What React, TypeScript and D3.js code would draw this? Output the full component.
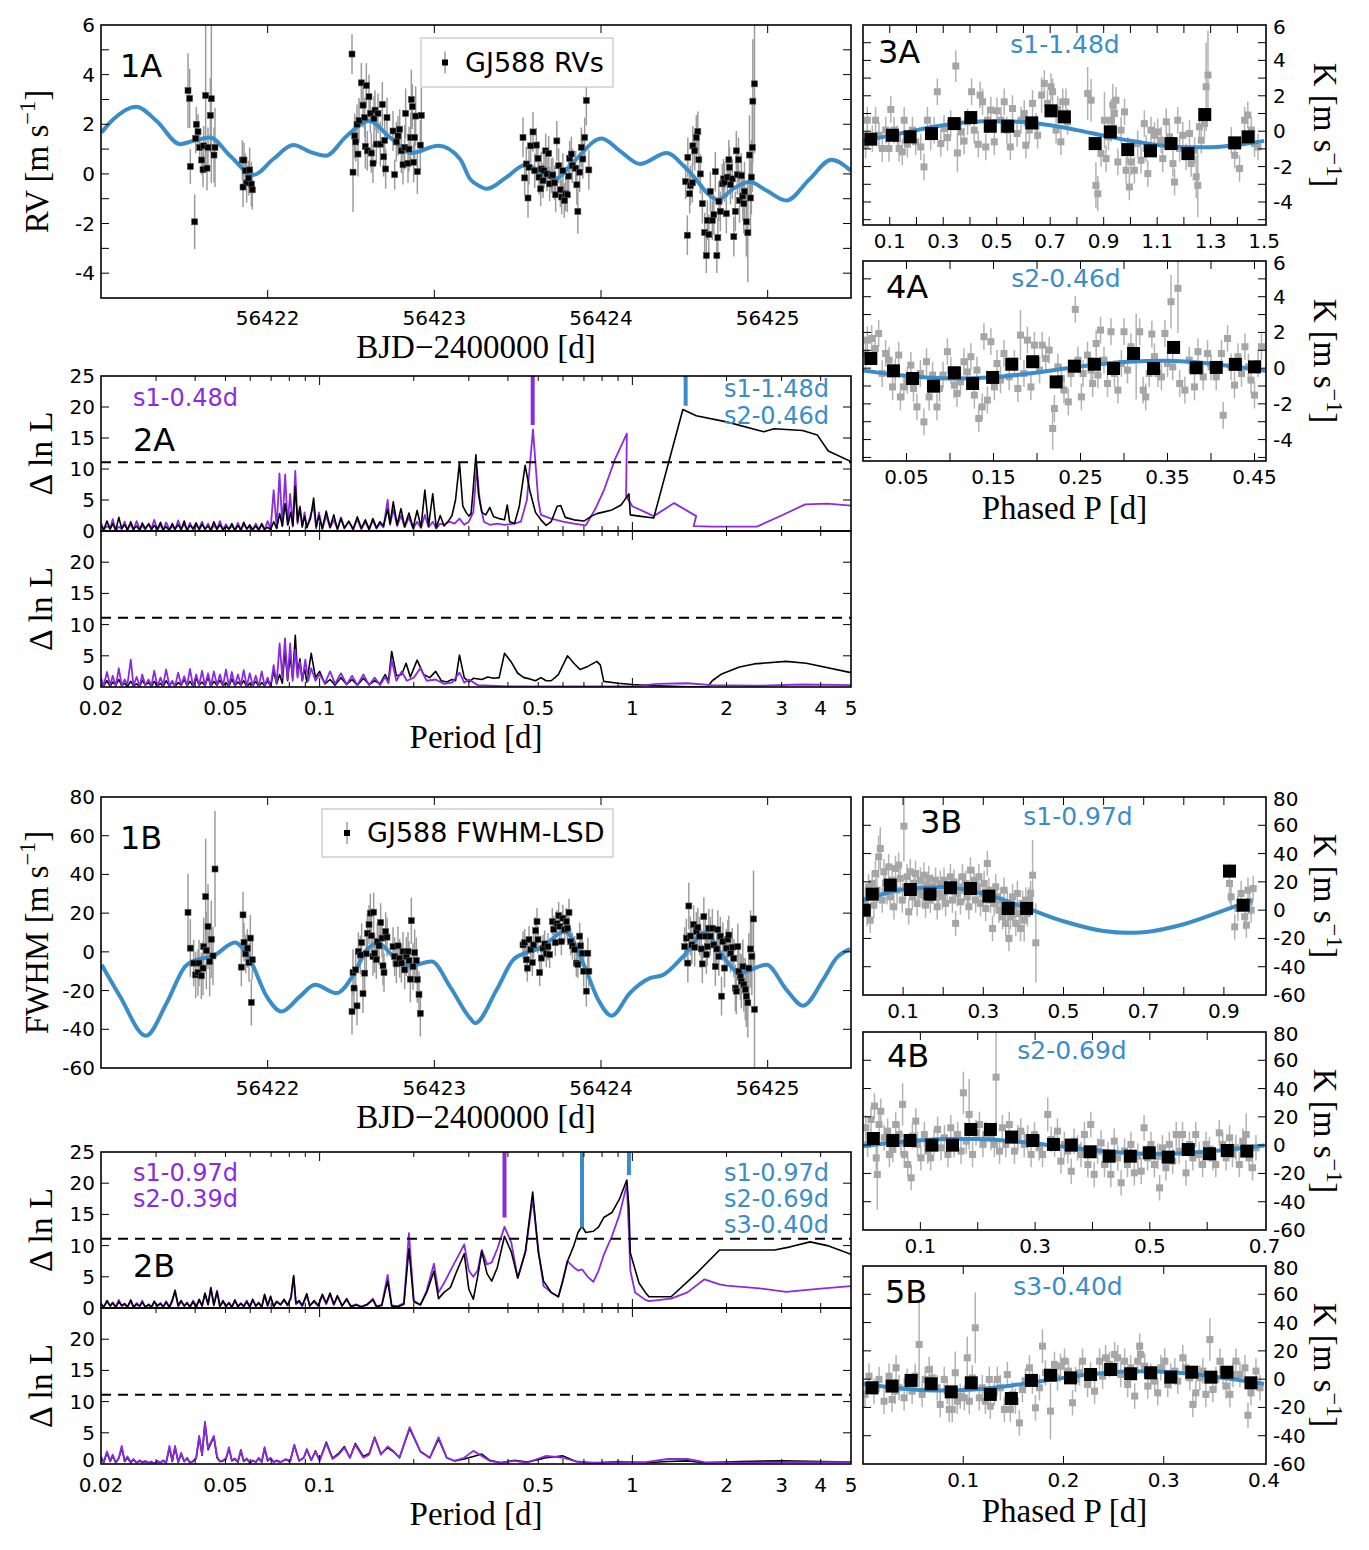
import { useEffect, useRef } from 'react'
import * as d3 from 'd3'

const W = 1369
const H = 1550
const BLUE = '#3a8dc8'
const PURPLE = '#8a2be2'
const SANS = "'DejaVu Sans', Verdana, sans-serif"
const SERIF = "'Liberation Serif', 'Times New Roman', serif"

// ---------------- time series (panels 1A / 1B) ----------------
const BJD_DOMAIN = [56421.0, 56425.5]
const BJD_TICKS = [56422, 56423, 56424, 56425]

// [BJD-2400000, RV m/s, err]
const RV_OBS = [
  [56421.522,3.36,1.5],[56421.532,3.04,1.2],[56421.536,0.30,0.7],[56421.562,-1.93,1.1],[56421.572,2.00,0.7],[56421.582,1.70,0.7],
  [56421.568,1.43,0.6],[56421.592,1.07,0.6],[56421.604,0.56,0.6],[56421.612,0.17,0.7],[56421.616,1.13,0.8],[56421.628,3.16,3.0],
  [56421.636,0.23,0.9],[56421.642,1.07,0.8],[56421.656,2.36,1.5],[56421.662,3.03,3.4],[56421.678,0.76,1.1],[56421.684,1.07,1.6],
  [56421.848,0.56,0.8],[56421.858,0.56,0.7],[56421.866,0.13,0.7],[56421.874,-0.36,0.8],[56421.886,-0.17,0.7],[56421.892,0.16,0.9],
  [56421.902,-0.41,0.9],[56421.908,-0.64,0.8],[56421.852,-0.53,0.8],
  [56422.506,4.83,0.8],[56422.512,0.07,1.6],[56422.522,1.53,0.9],[56422.528,1.29,0.8],[56422.542,0.80,0.9],[56422.536,2.00,0.8],
  [56422.548,2.16,0.9],[56422.562,3.67,0.8],[56422.572,2.77,0.9],[56422.582,2.27,0.8],[56422.586,1.11,0.9],[56422.592,3.56,0.9],
  [56422.598,0.93,0.8],[56422.608,3.11,0.9],[56422.616,2.44,0.8],[56422.622,0.84,0.8],[56422.632,0.43,0.8],[56422.638,2.23,0.9],
  [56422.644,2.57,0.8],[56422.652,1.20,0.8],[56422.662,2.44,0.8],[56422.676,1.20,0.9],[56422.688,2.80,0.9],[56422.696,0.69,0.8],
  [56422.702,1.35,0.8],[56422.708,0.20,0.8],[56422.716,2.27,0.8],[56422.752,1.73,0.8],[56422.762,-0.03,0.6],[56422.772,1.29,0.8],
  [56422.782,1.53,0.8],[56422.792,1.80,0.8],[56422.802,0.93,0.9],[56422.812,0.37,0.8],[56422.822,1.07,0.9],[56422.828,2.44,1.0],
  [56422.842,0.43,0.8],[56422.848,1.00,0.9],[56422.858,1.47,1.0],[56422.862,3.00,1.2],[56422.868,2.71,0.9],[56422.876,0.47,0.8],
  [56422.882,1.47,1.0],[56422.888,2.33,1.2],[56422.898,0.09,0.9],[56422.916,1.16,1.0],[56422.922,2.36,1.1],
  [56423.532,1.47,0.8],[56423.542,-0.16,0.7],[56423.552,0.40,0.7],[56423.562,-0.97,0.8],[56423.568,0.27,0.7],[56423.578,1.13,0.7],
  [56423.592,1.69,0.8],[56423.602,0.13,0.7],[56423.612,1.16,0.7],[56423.622,0.63,0.7],[56423.628,-0.13,0.7],[56423.638,-0.60,0.7],
  [56423.642,0.20,0.7],[56423.652,-0.27,0.7],[56423.658,0.13,0.7],[56423.668,0.93,0.7],[56423.676,0.00,0.7],[56423.686,0.83,0.7],
  [56423.692,-0.40,0.7],[56423.702,-0.07,0.7],[56423.711,-0.04,0.7],[56423.722,-0.36,0.7],[56423.728,-0.84,0.7],[56423.735,1.33,0.8],
  [56423.746,0.33,0.7],[56423.756,-0.64,0.7],[56423.764,-0.93,0.7],[56423.771,0.13,0.7],[56423.780,-1.07,0.7],[56423.788,-0.80,0.7],
  [56423.798,-0.84,0.7],[56423.806,-0.09,0.7],[56423.812,0.63,0.7],[56423.822,0.80,0.7],[56423.828,0.33,0.7],[56423.848,0.23,0.7],
  [56423.855,-0.44,0.8],[56423.861,-1.51,0.9],[56423.872,0.07,0.8],[56423.882,1.07,0.8],[56423.891,0.60,0.8],[56423.902,1.47,0.8],
  [56423.912,2.96,1.0],[56423.927,0.16,0.8],
  [56424.518,-2.47,0.8],[56424.508,-0.31,0.7],[56424.521,0.67,0.8],[56424.532,-0.80,0.8],[56424.536,-0.47,0.8],[56424.548,-0.36,0.8],
  [56424.551,1.13,0.8],[56424.562,0.93,0.8],[56424.572,1.47,0.9],[56424.581,1.71,0.8],[56424.587,0.57,0.8],[56424.596,0.00,0.8],
  [56424.608,-1.20,0.8],[56424.622,-2.36,0.8],[56424.632,-3.29,0.7],[56424.638,-1.87,0.8],[56424.647,-2.44,0.8],[56424.656,-0.71,0.8],
  [56424.668,-1.87,0.8],[56424.677,-1.64,0.8],[56424.686,0.09,0.8],[56424.695,-3.29,0.7],[56424.701,-2.57,0.8],[56424.707,-1.11,0.8],
  [56424.716,-1.51,0.8],[56424.728,-0.40,0.8],[56424.735,-0.20,0.8],[56424.741,-0.33,0.8],[56424.752,-1.60,0.8],[56424.758,-0.13,0.8],
  [56424.767,0.57,0.8],[56424.771,0.27,0.8],[56424.777,-0.43,0.8],[56424.788,-0.20,0.8],[56424.797,-2.53,0.8],[56424.806,-1.51,0.8],
  [56424.812,0.93,0.8],[56424.818,-0.03,0.8],[56424.825,0.57,0.9],[56424.831,-1.07,0.9],[56424.842,-0.07,0.9],[56424.851,-0.89,1.0],
  [56424.857,-1.20,1.2],[56424.861,-0.71,1.2],[56424.872,-1.93,1.4],[56424.881,-2.37,2.0],[56424.891,0.76,1.6],[56424.897,-0.97,1.5],
  [56424.902,-0.13,1.5],[56424.908,1.07,1.8],[56424.911,2.93,2.5],[56424.921,3.63,2.8],
]
const RV_MODEL = [
  [56421.004,1.67],[56421.074,2.2],[56421.210,2.71],[56421.334,2.13],[56421.474,1.2],[56421.554,1.33],[56421.654,1.47],
  [56421.774,0.73],[56421.914,-0.04],[56422.034,0.6],[56422.154,1.16],[56422.254,0.89],[56422.348,0.73],[56422.474,1.53],
  [56422.609,2.13],[56422.734,1.47],[56422.864,0.84],[56423.023,1.13],[56423.154,0.6],[56423.214,-0.2],[56423.274,-0.5],
  [56423.314,-0.6],[56423.434,-0.13],[56423.544,0.36],[56423.724,-0.2],[56423.833,0.47],[56424.004,1.43],[56424.113,0.93],
  [56424.233,0.4],[56424.394,0.84],[56424.514,0.2],[56424.703,-1.03],[56424.793,-0.6],[56424.893,-0.33],[56424.993,-0.67],
  [56425.113,-1.07],[56425.253,-0.2],[56425.383,0.57],[56425.499,0.13],
]
const RV_Y_DOMAIN = [-5, 6]
const RV_Y_TICKS = [-4, -3, -2, -1, 0, 1, 2, 3, 4, 5]
const RV_Y_LABELS = [-4, -2, 0, 2, 4, 6]

// [BJD-2400000, FWHM m/s, err]
const FW_OBS = [
  [56421.522,20.4,20],[56421.536,1.9,15],[56421.556,-5.8,12],[56421.568,-11.9,12],[56421.582,-10.7,12],[56421.588,-5.8,12],
  [56421.602,-12.4,12],[56421.612,-8.4,14],[56421.616,2.7,15],[56421.628,28.5,30],[56421.632,0.7,20],[56421.642,13.1,22],
  [56421.652,-5.0,18],[56421.662,6.5,20],[56421.672,-2.1,15],[56421.684,42.8,30],
  [56421.842,-7.9,10],[56421.852,19.1,12],[56421.858,5.0,10],[56421.868,-1.0,10],[56421.878,1.9,10],[56421.888,-5.5,10],
  [56421.896,7.1,12],[56421.902,-26.1,12],[56421.908,-4.1,10],
  [56422.506,-30.8,12],[56422.512,-10.7,12],[56422.518,-18.7,10],[56422.528,-9.3,10],[56422.536,-27.9,10],[56422.544,0.2,10],
  [56422.556,-1.6,10],[56422.564,4.8,10],[56422.572,-21.6,10],[56422.582,-11.0,10],[56422.592,-1.0,10],[56422.598,9.6,10],
  [56422.608,14.1,10],[56422.616,20.0,10],[56422.622,8.4,10],[56422.632,-2.4,10],[56422.636,20.5,10],[56422.642,-0.7,10],
  [56422.652,-4.0,10],[56422.658,5.3,10],[56422.668,3.1,10],[56422.678,15.1,10],[56422.686,7.1,10],[56422.692,-7.2,10],
  [56422.698,-10.7,10],[56422.708,10.5,10],[56422.716,7.6,10],[56422.752,2.7,10],[56422.762,-2.4,10],[56422.772,-6.2,10],
  [56422.782,3.1,10],[56422.792,-3.3,10],[56422.802,-5.8,10],[56422.812,0.2,10],[56422.822,-9.3,10],[56422.832,-2.4,10],
  [56422.842,0.2,10],[56422.848,-4.5,10],[56422.856,-14.1,12],[56422.862,16.1,12],[56422.872,-7.6,12],[56422.882,-0.4,12],
  [56422.892,-4.5,12],[56422.898,-14.3,12],[56422.908,-22.0,12],[56422.916,-31.8,12],
  [56423.532,3.6,7],[56423.542,4.8,7],[56423.552,-4.1,7],[56423.558,-8.4,7],[56423.568,6.3,7],[56423.578,1.2,7],
  [56423.588,-5.5,7],[56423.596,3.6,7],[56423.608,11.0,7],[56423.616,15.6,7],[56423.622,6.3,7],[56423.632,-10.7,7],
  [56423.642,-3.2,7],[56423.652,1.9,7],[56423.662,4.1,7],[56423.672,-1.0,7],[56423.682,2.7,7],[56423.692,-1.4,7],
  [56423.708,15.6,7],[56423.716,11.7,7],[56423.726,4.8,7],[56423.736,14.6,7],[56423.746,18.7,7],[56423.752,13.2,7],
  [56423.762,5.3,7],[56423.771,17.4,7],[56423.782,11.5,7],[56423.792,15.6,7],[56423.798,12.2,7],[56423.808,20.4,7],
  [56423.818,5.3,7],[56423.828,3.1,7],[56423.842,1.2,7],[56423.852,-5.8,7],[56423.861,-6.5,7],[56423.872,8.1,7],
  [56423.878,3.1,7],[56423.888,-0.7,7],[56423.896,-10.0,8],[56423.912,-20.3,8],[56423.921,-0.7,8],[56423.927,-10.0,8],
  [56424.502,2.7,10],[56424.512,7.1,10],[56424.521,-5.8,10],[56424.527,23.7,12],[56424.536,8.2,10],[56424.545,3.6,10],
  [56424.556,14.1,10],[56424.562,2.4,10],[56424.572,10.5,10],[56424.581,12.7,10],[56424.592,8.1,10],[56424.602,1.5,10],
  [56424.608,-6.2,10],[56424.617,18.2,10],[56424.626,8.1,10],[56424.632,-1.4,10],[56424.638,2.7,10],[56424.647,12.2,10],
  [56424.656,8.1,10],[56424.668,12.2,10],[56424.677,3.6,10],[56424.686,-7.6,10],[56424.695,1.5,10],[56424.701,11.5,10],
  [56424.707,-2.4,10],[56424.716,8.1,10],[56424.723,-22.9,10],[56424.731,5.3,10],[56424.741,-8.4,10],[56424.752,1.9,10],
  [56424.761,6.5,10],[56424.767,8.7,10],[56424.777,-0.7,10],[56424.788,2.4,10],[56424.797,-3.3,10],[56424.806,-18.7,12],
  [56424.812,-20.3,12],[56424.821,2.7,12],[56424.827,-10.0,12],[56424.836,-12.9,12],[56424.842,-15.2,14],[56424.851,-7.6,14],
  [56424.857,-16.9,14],[56424.866,-19.4,16],[56424.872,-22.9,16],[56424.881,-26.3,18],[56424.887,-8.4,18],[56424.897,1.5,20],
  [56424.905,-2.4,20],[56424.915,17.0,25],[56424.921,-29.7,30],
]
const FW_MODEL = [
  [56421.004,-6.7],[56421.114,-23],[56421.270,-43.3],[56421.394,-26.4],[56421.504,-7.6],[56421.574,-4.1],[56421.674,-2.1],
  [56421.804,4.8],[56421.894,-4.1],[56421.994,-23],[56422.084,-30.8],[56422.194,-23],[56422.284,-17],[56422.414,-21.3],
  [56422.514,-11.9],[56422.594,1],[56422.664,4.5],[56422.764,-3.2],[56422.854,-7.2],[56422.984,-5],[56423.094,-17.9],
  [56423.214,-34.2],[56423.244,-36.8],[56423.374,-19.6],[56423.473,-4.1],[56423.554,-0.4],[56423.634,1.9],[56423.784,10.5],
  [56423.893,-5.8],[56423.983,-24.7],[56424.064,-33],[56424.173,-21.3],[56424.293,-13.6],[56424.373,-11.9],[56424.493,-2.4],
  [56424.623,9.9],[56424.733,-2.4],[56424.833,-11],[56424.993,-6.7],[56425.113,-19.6],[56425.213,-27.8],[56425.333,-14.4],
  [56425.413,-3.2],[56425.493,1.4],
]
const FW_Y_DOMAIN = [-60, 80]
const FW_Y_TICKS = [-40, -20, 0, 20, 40, 60]
const FW_Y_LABELS = [-60, -40, -20, 0, 20, 40, 60, 80]

// ---------------- periodograms (panels 2A / 2B) ----------------
const PERIOD_DOMAIN = [0.02, 5]
const PERIOD_LABELS = [0.02, 0.05, 0.1, 0.5, 1, 2, 3, 4, 5]
const PERIOD_MAJOR = [0.1, 1]
const PERIOD_MINOR = [0.03,0.04,0.05,0.06,0.07,0.08,0.09,0.2,0.3,0.4,0.5,0.6,0.7,0.8,0.9,2,3,4]
const DLNL_TICKS = [5, 10, 15, 20]
const DLNL_THRESHOLD = 11.1

// shared short-period grid of the dense part of the periodograms
const NOISE_P = [
  0.0200,0.0204,0.0209,0.0214,0.0218,0.0223,0.0228,0.0233,0.0238,0.0243,0.0249,0.0254,0.0260,0.0266,0.0271,
  0.0277,0.0284,0.0290,0.0296,0.0303,0.0310,0.0316,0.0323,0.0331,0.0338,0.0345,0.0353,0.0361,0.0369,0.0377,
  0.0385,0.0394,0.0403,0.0412,0.0421,0.0430,0.0440,0.0449,0.0459,0.0470,0.0480,0.0491,0.0502,0.0513,0.0524,
  0.0536,0.0548,0.0560,0.0572,0.0585,0.0598,0.0611,0.0625,0.0639,0.0653,0.0667,0.0682,0.0697,0.0713,0.0729,
]

// 2A, fit of the RVs (upper) and of the residuals (lower)
const A_TOP_BLACK_NOISE = [0.9,0.2,1.6,0.3,1.2,0.1,2.2,0.4,1.0,0.2,1.5,0.3,0.8,0.1,1.3,0.4,1.1,0.2,0.9,0.3,1.4,0.2,0.7,0.1,1.2,0.3,1.0,0.2,1.6,0.1,0.9,0.4,1.3,0.2,1.1,0.3,0.8,0.1,1.5,0.3,1.0,0.2,0.7,0.3,1.2,0.1,0.9,0.2,1.4,0.3,1.0,0.2,0.8,0.1,1.2,0.3,0.6,0.2,1.5,0.4]
const A_TOP_BLACK = [
  [0.0745,2.8],[0.0760,0.8],[0.0776,4.4],[0.0792,1.0],[0.0808,3.0],[0.0822,0.9],[0.0836,7.2],[0.0850,1.5],[0.0865,3.8],[0.0880,0.8],
  [0.0895,2.4],[0.0910,0.6],[0.0935,2.0],[0.0957,5.3],[0.0975,0.7],[0.0995,2.5],[0.102,0.4],[0.105,3.2],[0.108,0.6],[0.111,2.6],
  [0.114,0.3],[0.117,2.0],[0.12,0.5],[0.124,1.6],[0.128,0.3],[0.132,2.3],[0.136,0.4],[0.14,1.8],[0.144,0.3],[0.148,2.0],[0.152,0.5],
  [0.156,1.5],[0.16,0.8],[0.165,3.5],[0.168,1.2],[0.172,4.7],[0.177,1.0],[0.182,3.6],[0.187,0.7],[0.193,2.9],[0.199,0.5],[0.205,3.3],
  [0.211,0.6],[0.217,6.6],[0.223,0.8],[0.230,6.0],[0.236,0.5],[0.243,2.5],[0.250,0.8],[0.258,1.6],[0.265,2.5],[0.272,5.0],[0.280,11.0],
  [0.287,4.0],[0.294,3.0],[0.300,2.4],[0.305,2.8],[0.310,7.0],[0.316,12.3],[0.322,6.0],[0.330,3.0],[0.340,2.6],[0.350,3.8],[0.360,2.3],
  [0.375,2.0],[0.390,1.8],[0.398,4.2],[0.405,1.5],[0.420,1.2],[0.435,4.0],[0.454,10.6],[0.47,6.5],[0.49,3.0],[0.51,1.8],[0.53,0.9],
  [0.55,1.5],[0.575,4.0],[0.59,4.1],[0.61,2.2],[0.65,1.8],[0.70,1.6],[0.74,2.4],[0.77,2.8],[0.80,3.0],[0.86,3.4],[0.92,4.2],[0.96,5.5],
  [0.975,6.0],[0.985,2.6],[1.05,2.4],[1.17,2.1],[1.45,19.6],[1.6,18.6],[2.0,17.6],[2.63,16.0],[2.84,16.5],[3.5,16.2],[3.9,15.5],
  [4.23,12.9],[5.0,11.2],
]
const A_TOP_PURPLE_NOISE = [1.3,0.2,0.8,0.4,1.9,0.1,0.7,0.3,1.5,0.2,1.1,0.1,1.6,0.3,0.9,0.2,1.2,0.4,1.8,0.2,1.0,0.1,1.4,0.3,0.8,0.2,1.7,0.3,1.1,0.1,1.3,0.2,0.9,0.4,1.5,0.2,1.2,0.1,0.9,0.3,1.6,0.2,1.1,0.3,0.8,0.2,1.3,0.1,1.0,0.4,0.7,0.2,1.2,0.3,1.0,0.1,1.6,0.3,6.6,0.5]
const A_TOP_PURPLE = [
  [0.0744,9.3],[0.0760,0.8],[0.0776,9.1],[0.0790,1.0],[0.0805,6.0],[0.0820,0.7],[0.0836,9.7],[0.0850,1.2],[0.0865,4.0],[0.0880,0.6],
  [0.0895,3.0],[0.091,0.5],[0.0935,2.5],[0.0957,4.0],[0.0975,0.4],[0.0995,3.0],[0.102,0.3],[0.105,2.5],[0.108,0.5],[0.111,1.8],
  [0.114,0.3],[0.117,2.2],[0.12,0.4],[0.124,1.5],[0.128,0.2],[0.132,1.9],[0.136,0.3],[0.14,1.5],[0.144,0.2],[0.148,1.7],[0.152,0.4],
  [0.156,1.2],[0.16,0.6],[0.165,5.0],[0.168,1.0],[0.172,3.5],[0.177,0.8],[0.182,2.5],[0.187,0.6],[0.193,2.2],[0.199,0.4],[0.205,1.5],
  [0.211,0.5],[0.217,2.6],[0.223,0.6],[0.230,1.5],[0.236,0.4],[0.243,1.2],[0.250,1.0],[0.26,1.5],[0.27,1.2],[0.28,2.0],[0.29,1.0],
  [0.30,1.5],[0.31,3.0],[0.318,10.2],[0.325,5.0],[0.335,1.5],[0.35,1.0],[0.37,1.2],[0.39,1.0],[0.42,1.2],[0.44,1.5],[0.46,5.0],
  [0.481,16.4],[0.50,5.0],[0.51,2.6],[0.55,2.0],[0.60,1.5],[0.65,1.2],[0.71,0.9],[0.76,3.5],[0.81,6.5],[0.88,11.6],[0.96,15.7],
  [0.955,5.6],[1.0,4.0],[1.17,2.4],[1.36,4.5],[1.6,2.4],[1.57,0.8],[1.8,0.7],[2.5,0.7],[3.0,2.5],[3.57,4.3],[4.2,4.4],[5.0,4.1],
]
const A_BOT_BLACK_NOISE = [0.5,0.2,1.0,0.1,0.8,0.3,1.2,0.2,0.6,0.1,0.9,0.2,0.5,0.1,1.1,0.3,0.7,0.1,0.9,0.2,0.6,0.1,1.0,0.2,0.8,0.1,0.7,0.3,1.2,0.2,0.9,0.1,1.4,0.3,0.8,0.2,1.6,0.1,0.9,0.3,1.1,0.2,0.7,0.1,1.3,0.2,0.8,0.3,1.0,0.1,0.6,0.2,0.9,0.1,0.7,0.2,1.0,0.1,2.5,0.5]
const A_BOT_BLACK = [
  [0.0745,2.0],[0.076,0.6],[0.0775,6.0],[0.079,1.0],[0.0805,5.0],[0.082,1.5],[0.0836,8.3],[0.085,2.0],[0.0865,4.5],[0.088,1.0],
  [0.0895,3.0],[0.091,0.8],[0.094,5.4],[0.097,1.5],[0.10,2.5],[0.104,0.5],[0.108,1.2],[0.112,0.3],[0.117,1.5],[0.122,0.4],[0.127,1.2],
  [0.132,0.3],[0.138,1.4],[0.144,0.4],[0.15,1.0],[0.156,0.5],[0.162,2.0],[0.166,1.0],[0.17,5.7],[0.176,1.8],[0.183,2.0],[0.189,3.8],
  [0.195,1.6],[0.205,4.3],[0.215,2.0],[0.225,1.5],[0.235,2.5],[0.245,1.0],[0.255,0.8],[0.265,1.2],[0.272,1.0],[0.28,5.1],[0.29,1.5],
  [0.30,0.8],[0.31,1.4],[0.33,1.2],[0.345,1.6],[0.36,1.4],[0.375,1.5],[0.39,5.4],[0.41,4.0],[0.43,2.2],[0.45,1.5],[0.47,1.3],
  [0.49,1.0],[0.51,1.5],[0.53,1.0],[0.55,1.0],[0.58,2.0],[0.62,5.0],[0.65,3.8],[0.68,2.8],[0.72,3.3],[0.77,4.1],[0.79,3.5],[0.81,0.9],
  [0.9,0.6],[1.0,0.4],[1.2,0.2],[1.5,0.05],[1.74,0.05],[1.8,1.0],[1.93,2.1],[2.2,3.2],[2.45,3.7],[3.1,4.1],[3.6,3.8],[5.0,2.3],
]
const A_BOT_PURPLE_NOISE = [1.5,0.2,2.4,0.3,1.8,0.1,3.0,0.2,1.2,0.4,4.4,0.2,1.6,0.1,2.0,0.3,1.2,0.2,2.6,0.1,1.5,0.3,2.8,0.2,1.0,0.1,2.3,0.3,1.7,0.2,2.9,0.1,2.0,0.3,2.6,0.2,2.2,0.1,2.5,0.3,2.0,0.2,2.8,0.1,2.4,0.2,2.0,0.3,2.7,0.1,2.2,0.2,1.8,0.1,2.5,0.2,1.5,0.1,3.5,0.6]
const A_BOT_PURPLE = [
  [0.0745,7.0],[0.076,1.5],[0.0775,7.8],[0.079,1.2],[0.0805,7.0],[0.082,1.0],[0.0836,6.0],[0.085,1.5],[0.0865,4.0],[0.088,1.0],
  [0.090,4.4],[0.092,1.0],[0.094,3.0],[0.097,1.0],[0.10,2.0],[0.104,0.6],[0.108,2.5],[0.112,0.5],[0.117,2.2],[0.122,0.4],[0.127,1.8],
  [0.132,0.3],[0.138,2.0],[0.144,0.3],[0.15,1.5],[0.156,0.3],[0.162,1.6],[0.166,0.6],[0.17,4.3],[0.176,1.0],[0.183,2.5],[0.19,1.0],
  [0.20,1.5],[0.21,3.0],[0.22,1.0],[0.235,1.2],[0.25,0.5],[0.265,0.7],[0.28,2.3],[0.29,0.7],[0.30,1.2],[0.32,0.3],[0.35,0.2],
  [0.4,0.1],[0.5,0.1],[0.7,0.1],[1.0,0.1],[1.2,0.5],[1.5,0.6],[1.8,0.3],[2.5,0.2],[3.5,0.4],[5.0,0.3],
]
const A_MARKS_PURPLE = [[0.48, 17.1]]
const A_MARKS_BLUE = [[1.48, 20.2]]

// 2B, fit of the FWHM (upper) and of the residuals (lower)
const B_TOP_BLACK_NOISE = [0.6,0.2,1.2,0.3,0.8,0.1,1.0,0.4,0.7,0.2,1.3,0.1,0.6,0.3,0.9,0.2,0.5,0.1,1.1,0.3,0.7,0.2,0.9,0.1,1.3,2.7,0.4,1.2,0.3,0.8,0.2,1.0,0.1,1.4,0.3,2.4,0.6,3.2,0.5,2.6,0.2,1.2,0.3,0.8,0.1,1.3,0.2,0.7,0.3,1.0,0.2,1.4,0.3,0.8,0.1,2.2,0.4,1.9,0.2,1.0]
const B_TOP_BLACK = [
  [0.075,0.5],[0.077,1.4],[0.079,0.4],[0.081,1.8],[0.0826,5.2],[0.084,0.8],[0.086,1.2],[0.088,0.4],[0.091,2.3],[0.093,0.3],[0.096,1.2],
  [0.099,0.4],[0.102,2.2],[0.105,0.8],[0.108,2.4],[0.111,0.6],[0.114,2.0],[0.118,0.3],[0.122,1.5],[0.126,0.2],[0.131,0.5],[0.136,0.2],
  [0.142,0.6],[0.148,1.3],[0.152,0.2],[0.158,0.4],[0.165,4.3],[0.170,0.3],[0.178,0.2],[0.186,0.6],[0.193,9.5],[0.200,1.0],[0.210,0.5],
  [0.220,2.5],[0.232,5.9],[0.240,1.5],[0.250,2.5],[0.262,3.3],[0.275,6.0],[0.29,8.7],[0.30,3.0],[0.31,1.4],[0.32,5.0],[0.33,9.1],
  [0.343,5.5],[0.355,4.3],[0.37,6.5],[0.39,11.5],[0.41,9.0],[0.43,4.8],[0.455,9.0],[0.48,18.6],[0.50,9.0],[0.52,4.3],[0.55,2.5],
  [0.58,1.8],[0.60,4.5],[0.62,7.5],[0.65,10.0],[0.67,12.1],[0.69,13.1],[0.71,12.1],[0.75,12.3],[0.78,13.0],[0.81,14.5],[0.86,15.3],
  [0.91,17.5],[0.96,20.5],[0.975,16.0],[0.985,8.8],[1.05,4.0],[1.1,2.5],[1.13,1.8],[1.33,1.8],[1.6,5.5],[1.9,9.3],[2.85,9.3],
  [3.2,9.8],[3.7,10.6],[4.2,10.0],[5.0,8.6],
]
const B_TOP_PURPLE_NOISE = [0.8,0.1,1.0,0.4,0.9,0.2,1.3,0.3,0.6,0.1,1.1,0.2,0.8,0.3,1.2,0.1,0.6,0.2,0.9,0.4,0.8,0.1,1.1,0.2,1.0,2.9,0.3,1.0,0.4,0.9,0.1,1.2,0.2,1.2,0.4,2.2,0.5,3.3,0.4,2.8,0.3,1.0,0.2,0.9,0.2,1.1,0.3,0.8,0.2,1.2,0.1,1.2,0.4,0.9,0.2,2.0,0.3,1.7,0.3,1.1]
const B_TOP_PURPLE = [
  [0.075,0.6],[0.077,1.2],[0.079,0.5],[0.081,1.5],[0.0826,5.0],[0.084,0.6],[0.086,1.0],[0.088,0.3],[0.091,2.0],[0.093,0.4],[0.096,1.0],
  [0.099,0.3],[0.102,2.0],[0.105,0.6],[0.108,2.2],[0.111,0.5],[0.114,1.8],[0.118,0.4],[0.122,1.3],[0.126,0.3],[0.131,0.6],[0.136,0.2],
  [0.142,0.5],[0.148,1.5],[0.152,0.3],[0.158,0.5],[0.165,5.3],[0.170,0.4],[0.178,0.3],[0.186,0.8],[0.193,12.0],[0.200,1.2],[0.210,0.5],
  [0.220,2.8],[0.232,7.1],[0.240,2.5],[0.250,4.0],[0.262,6.0],[0.275,8.0],[0.29,10.2],[0.30,6.0],[0.31,5.0],[0.32,6.0],[0.33,9.3],
  [0.343,7.0],[0.355,7.3],[0.37,9.5],[0.39,13.0],[0.41,10.5],[0.43,4.8],[0.455,9.0],[0.48,17.5],[0.50,9.5],[0.52,3.5],[0.55,2.5],
  [0.58,1.8],[0.60,4.5],[0.62,7.5],[0.65,6.5],[0.67,6.0],[0.69,6.2],[0.72,5.0],[0.75,4.2],[0.78,6.0],[0.81,8.5],[0.86,11.5],
  [0.91,15.0],[0.96,19.8],[0.975,12.0],[0.985,6.0],[1.02,2.5],[1.1,1.3],[1.13,1.1],[1.33,1.5],[1.5,2.5],[1.7,4.6],[1.9,3.8],
  [2.0,3.6],[2.5,3.2],[3.1,2.6],[4.0,3.1],[5.0,3.5],
]
const B_BOT_BLACK_NOISE = [1.0,0.2,1.8,0.4,1.3,0.2,0.9,2.6,0.4,1.0,0.2,0.7,0.2,0.5,0.2,0.4,0.2,0.3,0.1,0.4,0.2,0.5,0.2,2.6,0.4,2.7,0.3,1.6,0.4,0.9,0.2,0.4,0.9,4.3,1.4,6.6,2.3,3.3,4.3,1.0,0.4,0.5,0.8,2.5,0.5,0.8,0.3,2.1,0.4,0.8,0.2,0.5,0.3,0.9,0.3,2.5,0.5,0.9,0.3,0.5]
const B_BOT_BLACK = [
  [0.075,0.3],[0.078,0.7],[0.0805,0.4],[0.083,3.0],[0.086,0.5],[0.089,1.0],[0.091,2.3],[0.094,0.6],[0.097,2.1],[0.100,0.6],[0.105,3.5],
  [0.11,0.9],[0.115,1.7],[0.12,2.8],[0.125,1.0],[0.13,3.3],[0.138,1.2],[0.144,1.7],[0.15,4.3],[0.157,1.6],[0.165,2.6],[0.172,2.0],
  [0.18,1.0],[0.194,5.7],[0.21,2.0],[0.225,1.0],[0.24,4.0],[0.255,1.0],[0.27,0.5],[0.29,0.8],[0.31,1.2],[0.33,1.6],[0.35,0.6],
  [0.38,0.2],[0.42,0.6],[0.46,0.3],[0.53,1.0],[0.6,1.3],[0.66,0.4],[0.75,0.1],[0.9,0.4],[1.1,0.2],[1.3,0.4],[1.5,0.5],[1.7,0.2],
  [2.2,0.4],[3.0,0.5],[5.0,0.3],
]
const B_BOT_PURPLE_NOISE = [1.2,0.3,2.0,0.5,1.5,0.2,1.0,2.9,0.5,1.2,0.3,0.8,0.2,0.6,0.3,0.5,0.2,0.4,0.1,0.5,0.2,0.6,0.2,2.9,0.5,2.9,0.3,1.8,0.4,1.0,0.2,0.5,1.0,4.5,1.5,6.8,2.5,3.5,4.5,1.2,0.4,0.6,0.9,2.7,0.6,0.9,0.4,2.3,0.5,0.9,0.2,0.6,0.3,1.0,0.4,2.7,0.6,1.0,0.3,0.6]
const B_BOT_PURPLE = [
  [0.075,0.3],[0.078,0.8],[0.0805,0.4],[0.083,3.1],[0.086,0.5],[0.089,1.0],[0.091,2.4],[0.094,0.6],[0.097,2.0],[0.100,0.5],[0.105,3.3],
  [0.11,0.8],[0.115,1.5],[0.12,2.6],[0.125,1.0],[0.13,3.1],[0.138,1.0],[0.144,1.5],[0.15,4.2],[0.157,1.5],[0.165,2.8],[0.172,2.1],
  [0.18,1.0],[0.194,5.9],[0.21,2.0],[0.225,1.0],[0.24,4.3],[0.255,1.0],[0.27,0.5],[0.29,1.0],[0.31,2.1],[0.33,1.3],[0.35,0.5],
  [0.38,0.2],[0.42,0.5],[0.46,0.2],[0.53,1.3],[0.6,1.0],[0.66,0.4],[0.75,0.2],[0.9,0.3],[1.1,0.3],[1.3,0.8],[1.5,0.8],[1.7,0.3],
  [2.2,0.2],[3.0,0.3],[5.0,0.3],
]
const B_MARKS_PURPLE = [[0.39, 14.5]]
const B_MARKS_BLUE = [[0.69, 12.9], [0.975, 21.3]]

// ---------------- phase-folded panels (3A, 4A, 3B, 4B, 5B) ----------------
// gray: [phase, value, err?]; bins: [phase, value]; fit: [phase, value]
const P3A_GRAY = [
  [0.010,-0.79],[0.016,0.62],[0.035,-0.42],[0.047,0.62],[0.060,-0.23],[0.072,-0.98],[0.085,0.06],[0.097,-0.98],[0.104,1.23],[0.116,0.06],
  [0.129,-0.42],[0.135,-0.98],[0.147,-1.17],[0.154,0.62],[0.166,-0.74],[0.185,0.06],[0.197,-0.6],[0.216,-0.89],[0.228,-2.02],[0.241,0.62],
  [0.253,-0.32],[0.266,0.06],[0.278,2.23],[0.291,-0.70],[0.303,0.15],[0.316,-0.36],[0.328,0.43],[0.347,3.68,0.9],[0.353,-1.23,1.1],
  [0.366,-0.04],[0.378,-0.55],[0.391,0.53],[0.406,2.23],[0.416,0.06],[0.431,-0.74],[0.438,2.04],[0.447,1.66],[0.459,-0.89],[0.466,0.62],
  [0.478,1.19],[0.491,-0.6],[0.501,1.15],[0.516,0.62],[0.528,1.66],[0.538,0.06],[0.551,-0.89],[0.559,1.28],[0.576,-0.13],[0.591,0.62],
  [0.603,1.0],[0.609,-0.79],[0.622,0.06],[0.634,1.57],[0.647,0.28],[0.653,-0.23],[0.668,2.04,1.0],[0.678,2.70],[0.690,1.57],[0.703,2.51],
  [0.709,2.23],[0.722,0.06],[0.728,1.23],[0.740,-0.6],[0.747,1.66],[0.759,1.66],[0.765,0.53],[0.840,2.13,1.5],[0.853,1.75,1.2],
  [0.871,-3.06,1.3],[0.878,-3.53,1.0],[0.890,-1.26],[0.903,0.62,1.6],[0.909,-1.55],[0.918,-0.32],[0.928,0.62,1.2],[0.934,1.47,1.2],
  [0.940,1.0],[0.946,1.75],[0.953,-1.74],[0.965,0.06],[0.978,1.09],[0.984,-2.21],[0.990,-1.08],[0.996,-3.15],[1.002,-1.74],[1.015,-2.21],
  [1.027,-0.70],[1.040,-1.64],[1.052,0.43],[1.059,-0.98],[1.065,-2.40],[1.077,0.06],[1.090,-0.23],[1.102,-0.04],[1.115,-0.51],
  [1.121,-1.55],[1.134,0.53],[1.146,-0.32],[1.159,-1.83],[1.165,-2.87],[1.177,0.62],[1.184,-0.98],[1.196,-0.23],[1.208,-1.45],
  [1.221,-0.13],[1.227,-1.83],[1.240,-1.08],[1.246,-2.58,1.2],[1.252,-3.06,1.8],[1.258,0.25],[1.265,-0.51],[1.277,0.43],[1.283,2.51,2.5],
  [1.290,3.17,2.5],[1.377,-0.51],[1.390,-1.36],[1.408,-2.11],[1.427,0.62],[1.439,0.91],[1.452,0.06],[1.464,-0.70],[1.477,-0.89],
]
const P3A_BINS = [
  [0.029,-0.45],[0.11,-0.23],[0.176,-0.32],[0.256,-0.13],[0.341,0.43],[0.403,0.77],[0.476,0.28],[0.541,0.28],[0.631,0.47],[0.703,1.15],
  [0.753,0.81],[0.868,-0.7],[0.925,-0.04],[0.99,-1.04],[1.075,-1.11],[1.152,-0.7],[1.215,-1.26],[1.278,0.94],[1.39,-0.66],[1.44,-0.32],
]
const P3A_FIT = [
  [0,-0.545],[0.1,-0.249],[0.2,0.062],[0.3,0.332],[0.4,0.515],[0.5,0.58],[0.6,0.515],[0.7,0.332],[0.8,0.062],[0.9,-0.249],
  [1.0,-0.545],[1.1,-0.777],[1.2,-0.904],[1.3,-0.904],[1.4,-0.777],[1.5,-0.545],
]
const P4A_GRAY = [
  [0.003,0.82],[0.005,1.57],[0.010,1.66],[0.014,1.10],[0.018,1.94],[0.022,-0.30],[0.026,0.82],[0.030,0.45],[0.034,-1.05],[0.037,-0.21],
  [0.041,0.73],[0.043,-1.61],[0.047,-1.05],[0.051,-0.67],[0.055,0.17],[0.058,-1.14],[0.062,-2.17],[0.066,-0.30],[0.070,-3.01],[0.073,0.36],
  [0.076,-1.61],[0.080,-0.39],[0.085,-2.17],[0.088,-1.14],[0.092,-0.39],[0.097,0.92],[0.101,-0.11],[0.105,-0.95],[0.108,-1.42],[0.112,-0.77],
  [0.116,0.36],[0.120,-0.21],[0.124,0.64],[0.128,-1.51],[0.131,-0.11],[0.133,-2.82],[0.137,-2.17],[0.139,1.76],[0.143,-1.79],[0.147,1.48],
  [0.151,-1.05],[0.154,0.26],[0.158,-0.67],[0.162,0.82],[0.168,-0.49],[0.174,0.26],[0.178,-1.14],[0.181,1.85,1.4],[0.185,-0.30],[0.189,1.57],
  [0.193,-1.05],[0.197,1.29],[0.203,-0.11],[0.206,1.29],[0.210,0.54],[0.214,1.01],[0.218,-3.38,1.2],[0.220,-2.26],[0.224,0.07],[0.228,-0.58],
  [0.231,-1.23],[0.236,-1.89],[0.239,-0.30],[0.244,3.29],[0.247,0.45],[0.251,-1.61],[0.253,-0.30],[0.258,0.73],[0.262,-0.11],[0.264,-0.86],
  [0.268,1.38],[0.270,-0.39],[0.273,2.13],[0.277,0.45],[0.281,-0.86],[0.285,2.04],[0.289,-0.30],[0.293,-1.23],[0.297,0.26],[0.300,2.04],
  [0.304,-0.11],[0.308,1.20],[0.314,0.64,2.4],[0.318,2.04],[0.322,-1.23],[0.325,-1.61],[0.329,-0.30],[0.332,1.91],[0.335,0.64],[0.339,-0.30],
  [0.343,-0.49],[0.347,1.94],[0.350,0.26],[0.354,3.72,1.5],[0.356,0.07],[0.362,4.47,2.5],[0.364,-0.86],[0.370,-1.23],[0.375,0.45],
  [0.381,-1.05],[0.385,0.92],[0.391,-0.49],[0.396,0.82],[0.400,0.07],[0.406,-0.49],[0.412,0.82],[0.414,-2.64],[0.419,1.66],[0.423,0.07],
  [0.427,-0.95],[0.431,0.64],[0.435,-0.30],[0.439,1.20],[0.443,0.07],[0.446,-0.67],[0.450,-1.51],[0.454,0.26],[0.458,1.20],
]
const P4A_BINS = [
  [0.009,0.54],[0.035,-0.15],[0.057,-0.58],[0.081,-1.01],[0.105,-0.26],[0.126,-0.86],[0.149,-0.52],[0.171,0.22],[0.195,0.36],[0.222,-0.77],
  [0.243,0.11],[0.266,0.22],[0.288,-0.02],[0.311,0.82],[0.334,-0.02],[0.357,1.16],[0.383,0.02],[0.406,0.04],[0.428,0.21],[0.45,0.07],
]
const P4A_FIT = [
  [0,-0.126],[0.05,-0.432],[0.1,-0.58],[0.15,-0.509],[0.2,-0.246],[0.25,0.089],[0.3,0.345],[0.35,0.41],[0.4,0.252],[0.45,-0.058],[0.463,-0.146],
]
const P3B_GRAY = [
  [0.006,7.1],[0.010,-2.4],[0.014,16.5],[0.018,-7.1],[0.023,18.9],[0.027,3.5],[0.031,25.9],[0.035,14.1],[0.039,37.7,15],[0.043,43.6,15],
  [0.048,7.1],[0.052,27.1],[0.056,18.9],[0.060,13.0],[0.064,30.6],[0.068,9.4],[0.073,21.2],[0.077,2.4],[0.081,29.5],[0.085,14.1],
  [0.089,31.8],[0.093,22.4],[0.098,7.1],[0.102,59.4,25],[0.106,16.5],[0.110,23.6],[0.114,-1.2],[0.118,27.1],[0.123,9.4],[0.127,18.9],
  [0.131,25.9],[0.135,4.7],[0.139,14.1],[0.143,21.2],[0.148,10.6],[0.152,24.7],[0.156,3.5],[0.160,17.7],[0.164,22.4],[0.168,7.1],
  [0.173,16.5],[0.181,21.2],[0.185,2.4],[0.189,11.8],[0.193,18.9],[0.198,9.4],[0.202,21.2],[0.206,4.7],[0.210,14.1],[0.218,23.6],
  [0.223,7.1],[0.227,20.0],[0.231,-9.4],[0.235,11.8],[0.239,16.5],[0.243,5.9],[0.248,23.6],[0.252,14.1],[0.256,18.9],[0.260,9.4],
  [0.264,2.4],[0.268,28.3],[0.273,14.1],[0.277,21.2],[0.281,7.1],[0.285,16.5],[0.289,23.6],[0.293,4.7],[0.298,11.8],[0.302,18.9],
  [0.306,1.2],[0.310,33.0],[0.314,14.1],[0.318,7.1],[0.323,-13.0],[0.327,4.7],[0.331,16.5],[0.335,9.4],[0.339,0],[0.343,7.1],
  [0.348,-4.7],[0.352,14.1],[0.356,-9.4],[0.360,4.7],[0.364,-20.0],[0.368,-4.7],[0.373,9.4],[0.377,2.4],[0.381,-9.4],[0.385,11.8],
  [0.389,-2.4],[0.393,-13.0],[0.398,4.7],[0.402,-7.1,15],[0.406,7.1],[0.410,-2.4],[0.414,7.1],[0.418,11.8],[0.423,24.7,25],[0.431,-23.1,28],
  [0.914,18.9,14],[0.918,9.4],[0.927,-11.8],[0.935,1.2],[0.943,11.8],[0.952,-4.7],[0.956,-10.6],[0.960,14.1],[0.964,5.9],[0.968,0],[0.973,15.3],
]
const P3B_BINS = [
  [0.003,0],[0.023,11.3],[0.068,17.7],[0.118,14.6],[0.167,11.3],[0.218,15.8],[0.268,15.3],[0.314,9.9],[0.362,1.2],[0.408,1.2],[0.914,27.6],[0.948,3.5],
]
const P3B_FIT = [
  [0,6.95],[0.1,14.56],[0.2,16.37],[0.3,11.64],[0.4,2.3],[0.5,-7.87],[0.6,-14.75],[0.66,-16.05],[0.7,-15.56],[0.8,-9.94],[0.9,-0.22],[0.97,6.95],
]
const P4B_GRAY = [
  [0.005,12.3],[0.008,0.5],[0.014,18.1],[0.020,27.6],[0.023,-9.0],[0.025,-20.7,25],[0.028,14.6],[0.031,24.0],[0.037,5.2],[0.043,9.9],
  [0.046,-6.6],[0.052,-3.1],[0.057,14.6],[0.063,7.5],[0.066,1.6],[0.069,28.8,15],[0.072,-6.6],[0.078,-13.7],[0.084,-23.1],[0.086,6.4],
  [0.092,17.0],[0.095,0.5],[0.101,-9.0],[0.107,7.5],[0.113,-4.2],[0.118,-9.0],[0.124,2.8],[0.130,11.1],[0.136,-1.9],[0.142,5.2],
  [0.148,-6.6],[0.153,12.3],[0.159,0.5],[0.165,7.5],[0.171,-4.2],[0.175,37.0,15],[0.180,2.8],[0.185,21.7,25],[0.191,-6.6],[0.197,8.7],
  [0.203,14.6],[0.209,0.5],[0.214,7.5],[0.223,5.2],[0.229,0.5],[0.232,48.1,40],[0.238,-4.2],[0.243,12.3],[0.249,0.5],[0.255,14.6],
  [0.264,-4.2],[0.270,5.2],[0.275,9.9],[0.281,0.5],[0.287,5.2],[0.293,-6.6],[0.299,7.5],[0.307,-1.9],[0.313,-6.6],[0.322,21.7,12],
  [0.328,4.0],[0.334,0.5],[0.339,9.9],[0.345,-11.3],[0.351,0.5],[0.357,-4.2],[0.363,-18.4],[0.368,2.8],[0.374,-1.9],[0.380,-6.6],
  [0.386,7.5],[0.392,-13.7],[0.397,14.6],[0.403,-20.7],[0.409,-4.2],[0.415,1.6],[0.421,-13.7],[0.427,-6.6],[0.432,-20.7],[0.438,2.8],
  [0.444,-9.0],[0.450,-26.6],[0.456,-4.2],[0.461,-13.7],[0.467,0.5],[0.473,-19.6],[0.479,-7.8],[0.485,-18.4],[0.490,12.3],[0.496,-9.0],
  [0.502,0.5],[0.508,-13.7],[0.514,-7.8],[0.517,-30.2],[0.522,-1.9],[0.528,-16.0],[0.534,0.5],[0.540,-11.3],[0.546,7.5],[0.551,-4.2],
  [0.557,7.5],[0.563,-19.6],[0.569,0.5],[0.575,-9.0],[0.580,7.5],[0.586,-6.6],[0.592,-13.7],[0.598,0.5],[0.604,-3.1],[0.610,-9.0],
  [0.615,-13.7],[0.621,8.7],[0.627,0.5],[0.633,-9.0],[0.639,5.2],[0.644,-6.6],[0.650,-1.9],[0.656,-13.7],[0.662,2.8],[0.668,7.5,15],
  [0.673,-9.0],[0.679,-16.0],[0.685,-1.9],
]
const P4B_BINS = [
  [0.018,4.7],[0.052,3.3],[0.082,3.3],[0.12,0],[0.156,0],[0.188,11.1],[0.222,11.1],[0.259,5.7],[0.296,3.3],[0.332,0.5],
  [0.363,0],[0.396,-4.7],[0.429,-7.8],[0.466,-7.8],[0.499,-5.4],[0.532,-8.5],[0.567,-3.1],[0.604,-6.1],[0.635,-3.8],[0.669,-4.2],
]
const P4B_FIT = [
  [0,-0.68],[0.05,1.64],[0.1,3.46],[0.15,4.41],[0.2,4.3],[0.25,3.15],[0.3,1.2],[0.35,-1.16],[0.4,-3.45],[0.45,-5.2],
  [0.5,-6.05],[0.55,-5.84],[0.6,-4.54],[0.65,-2.55],[0.7,-0.2],
]
const P5B_GRAY = [
  [0.002,-10.8],[0.006,2.1],[0.011,-8.5],[0.016,-0.2],[0.021,-15.6],[0.026,2.1],[0.029,-14.4],[0.032,-8.5],[0.033,8.0],[0.036,-6.1],
  [0.041,-13.2],[0.044,-1.4],[0.049,-8.5],[0.052,2.1],[0.056,24.5,30],[0.059,-10.8],[0.062,-0.2],[0.066,6.8],[0.069,0.9],[0.074,-6.1],
  [0.077,-17.9],[0.081,-0.2],[0.084,-8.5],[0.086,-21.4],[0.089,-21.4],[0.092,4.5,15],[0.094,-15.6],[0.097,-12.0],[0.101,-13.2],[0.104,15.1,15],
  [0.106,-15.6],[0.109,0.9],[0.112,36.3,25],[0.116,-13.2],[0.119,-6.1],[0.122,-15.6],[0.126,-0.2],[0.127,-19.1],[0.131,-9.7],[0.134,-0.2],
  [0.137,-6.1],[0.141,-21.4],[0.144,3.3],[0.147,-21.4],[0.149,-10.8],[0.152,-15.6],[0.156,-30.9],[0.159,-7.3],[0.162,-1.4],[0.166,8.0],
  [0.169,-1.4],[0.172,-20.3],[0.176,-6.1],[0.179,23.3,12],[0.182,4.5],[0.187,-22.6,20],[0.191,10.4],[0.194,0.9],[0.197,9.2],[0.201,12.7],
  [0.205,5.7],[0.209,-16.7],[0.212,-0.2],[0.216,4.5],[0.219,12.7],[0.224,-3.8],[0.227,3.3],[0.231,-8.5],[0.236,12.7],[0.239,2.1],
  [0.242,15.1],[0.246,10.4],[0.251,17.4],[0.254,15.1],[0.257,3.3],[0.261,12.7],[0.264,-3.8],[0.267,8.0],[0.271,-12.0],[0.274,12.7],
  [0.276,23.3],[0.277,17.4],[0.281,9.2],[0.284,-4.9],[0.287,2.1],[0.291,-1.4],[0.294,-9.7],[0.297,8.0],[0.301,12.7],[0.304,-3.8],
  [0.307,2.1],[0.311,5.7],[0.314,-1.4],[0.319,15.1],[0.322,8.0],[0.326,0.9],[0.329,-17.9],[0.332,-9.7],[0.336,0.9],[0.339,5.7],
  [0.342,-10.8],[0.346,28.0,15],[0.349,-7.3],[0.352,-0.2],[0.356,12.7],[0.359,5.7],[0.362,-4.9],[0.366,-10.8],[0.369,3.3],[0.372,12.7],
  [0.376,3.3],[0.381,8.0],[0.384,-25.5],[0.387,-9.7],[0.392,5.7],[0.396,-6.1],
]
const P5B_BINS = [
  [0.009,-6.1],[0.029,-4.9],[0.048,-0.9],[0.068,-3.3],[0.088,-9.0],[0.108,-2.6],[0.127,-10.8],[0.148,-13.7],[0.168,-0.9],[0.187,2.8],
  [0.207,0.9],[0.227,3.3],[0.247,6.8],[0.267,3.8],[0.287,4.5],[0.307,1.4],[0.328,4.9],[0.347,1.4],[0.363,4.9],[0.387,-2.6],
]
const P5B_FIT = [
  [0,-3.3],[0.025,-5.61],[0.05,-7.26],[0.075,-7.98],[0.1,-7.67],[0.125,-6.37],[0.15,-4.29],[0.175,-1.73],[0.2,0.9],[0.225,3.21],
  [0.25,4.86],[0.275,5.58],[0.3,5.27],[0.325,3.97],[0.35,1.89],[0.375,-0.67],[0.4,-3.3],
]

const K_RV_TICKS = [-5, -4, -3, -2, -1, 0, 1, 2, 3, 4, 5]
const K_RV_LABELS = [-4, -2, 0, 2, 4, 6]
const K_FW_TICKS = [-40, -20, 0, 20, 40, 60]
const K_FW_LABELS = [-60, -40, -20, 0, 20, 40, 60, 80]

// ---------------- drawing helpers ----------------
const L0 = 101
const L1 = 851
const R0 = 863
const R1 = 1266
const TICK_FS = 20
const TITLE_FS = 33
const NOTE_FS = 24

function seg(g: any, x1: number, y1: number, x2: number, y2: number, stroke = '#000', w = 1) {
  return g.append('line').attr('x1', x1).attr('y1', y1).attr('x2', x2).attr('y2', y2)
    .attr('stroke', stroke).attr('stroke-width', w)
}

function label(g: any, x: number, y: number, s: string, size: number, o: any = {}) {
  return g.append('text').attr('x', x).attr('y', y)
    .attr('font-family', o.family || SANS).attr('font-size', size)
    .attr('text-anchor', o.anchor || 'start').attr('fill', o.fill || '#000')
    .text(s)
}

function unitTitle(g: any, x: number, y: number, pre: string, rot: number) {
  const size = TITLE_FS
  const t = g.append('text').attr('transform', `translate(${x},${y}) rotate(${rot})`)
    .attr('text-anchor', 'middle').attr('font-family', SERIF).attr('font-size', size)
  t.append('tspan').text(pre + ' [m s')
  t.append('tspan').attr('dy', -size * 0.4).attr('font-size', size * 0.68).text('−1')
  t.append('tspan').attr('dy', size * 0.4).text(']')
}

function box(svg: any, id: string, x0: number, y0: number, x1: number, y1: number) {
  svg.append('clipPath').attr('id', id).append('rect')
    .attr('x', x0).attr('y', y0).attr('width', x1 - x0).attr('height', y1 - y0)
  const g = svg.append('g')
  const inner = g.append('g').attr('clip-path', `url(#${id})`)
  return { g, inner }
}

function border(g: any, x0: number, y0: number, x1: number, y1: number) {
  g.append('rect').attr('x', x0).attr('y', y0).attr('width', x1 - x0).attr('height', y1 - y0)
    .attr('fill', 'none').attr('stroke', '#000').attr('stroke-width', 1.6)
}

function xTicks(g: any, xs: number[], y0: number, y1: number, len: number) {
  xs.forEach((px) => { seg(g, px, y0, px, y0 + len); seg(g, px, y1, px, y1 - len) })
}
function yTicks(g: any, ys: number[], x0: number, x1: number, len: number) {
  ys.forEach((py) => { seg(g, x0, py, x0 + len, py); seg(g, x1, py, x1 - len, py) })
}

function errorPoints(inner: any, data: any[], x: any, y: any, o: any) {
  inner.append('g').selectAll('line').data(data).join('line')
    .attr('x1', (d: any) => x(d[0])).attr('x2', (d: any) => x(d[0]))
    .attr('y1', (d: any) => y(d[1] - (d[2] ?? o.err))).attr('y2', (d: any) => y(d[1] + (d[2] ?? o.err)))
    .attr('stroke', o.ecolor).attr('stroke-width', 1.5)
  return () => inner.append('g').selectAll('rect').data(data).join('rect')
    .attr('x', (d: any) => x(d[0]) - o.size / 2).attr('y', (d: any) => y(d[1]) - o.size / 2)
    .attr('width', o.size).attr('height', o.size)
    .attr('fill', o.fill).attr('stroke', o.stroke || 'none').attr('stroke-width', 0.6)
}

// ---------------- panels ----------------
function timePanel(svg: any, c: any) {
  const { id, y0, y1 } = c
  const x = d3.scaleLinear().domain(BJD_DOMAIN).range([L0, L1])
  const y = d3.scaleLinear().domain(c.yDomain).range([y1, y0])
  const { g, inner } = box(svg, id, L0, y0, L1, y1)
  const drawPts = errorPoints(inner, c.obs, x, y, { err: 1, ecolor: '#9c9c9c', size: 6, fill: '#000', stroke: '#555' })
  const ln = d3.line().x((d: any) => x(d[0])).y((d: any) => y(d[1])).curve(d3.curveMonotoneX)
  inner.append('path').datum(c.model).attr('d', ln).attr('fill', 'none').attr('stroke', BLUE).attr('stroke-width', 4)
  drawPts()
  xTicks(g, BJD_TICKS.map((t) => x(t)), y0, y1, 8)
  yTicks(g, c.yTicks.map((v: number) => y(v)), L0, L1, 8)
  border(g, L0, y0, L1, y1)
  BJD_TICKS.forEach((t) => label(g, x(t), y1 + 27, String(t), TICK_FS, { anchor: 'middle' }))
  c.yLabels.forEach((v: number) => label(g, L0 - 6, y(v) + 7, String(v), TICK_FS, { anchor: 'end' }))
  // legend
  const lg = c.legend
  g.append('rect').attr('x', lg.x0).attr('y', lg.y0).attr('width', lg.x1 - lg.x0).attr('height', lg.y1 - lg.y0)
    .attr('fill', '#fff').attr('stroke', '#c4c4c4').attr('stroke-width', 1.2)
  const my = (lg.y0 + lg.y1) / 2
  seg(g, lg.mx, my - 11, lg.mx, my + 11, '#9c9c9c', 1.5)
  g.append('rect').attr('x', lg.mx - 3).attr('y', my - 3).attr('width', 6).attr('height', 6).attr('fill', '#000')
  label(g, lg.mx + 20, my + 9, lg.text, 27)
  label(g, L0 + 19, y0 + 52, c.tag, 32)
  label(g, (L0 + L1) / 2, y1 + 60, 'BJD−2400000 [d]', TITLE_FS, { family: SERIF, anchor: 'middle' })
  unitTitle(g, 48, (y0 + y1) / 2, c.ytitle, -90)
}

function pgramPanel(svg: any, c: any) {
  const { id, y0, y1 } = c
  const x = d3.scaleLog().domain(PERIOD_DOMAIN).range([L0, L1])
  const y = d3.scaleLinear().domain([0, 25]).range([y1, y0])
  const { g, inner } = box(svg, id, L0, y0, L1, y1)
  const ln = d3.line().x((d: any) => x(d[0])).y((d: any) => y(d[1]))
  const series = (noise: number[], rest: number[][]) => NOISE_P.map((p, i) => [p, noise[i]]).concat(rest)
  const black = series(c.blackNoise, c.black)
  const purple = series(c.purpleNoise, c.purple)
  const order = c.purpleOnTop ? [[black, '#000', 1.6], [purple, PURPLE, 1.8]] : [[purple, PURPLE, 1.8], [black, '#000', 1.6]]
  order.forEach(([d, col, w]: any) => {
    inner.append('path').datum(d).attr('d', ln).attr('fill', 'none').attr('stroke', col)
      .attr('stroke-width', w).attr('stroke-linejoin', 'round')
  })
  seg(inner, L0, y(DLNL_THRESHOLD), L1, y(DLNL_THRESHOLD), '#000', 2).attr('stroke-dasharray', '10,7')
  ;(c.marks || []).forEach(([p, v, col]: any) => seg(inner, x(p), y0, x(p), y(v), col, 4))
  xTicks(g, PERIOD_MAJOR.map((p) => x(p)), y0, y1, 9)
  xTicks(g, PERIOD_MINOR.map((p) => x(p)), y0, y1, 5)
  yTicks(g, DLNL_TICKS.map((v) => y(v)), L0, L1, 8)
  border(g, L0, y0, L1, y1)
  const yl = c.top ? [0, 5, 10, 15, 20, 25] : [5, 10, 15, 20]
  yl.forEach((v) => label(g, L0 - 6, y(v) + 7, String(v), TICK_FS, { anchor: 'end' }))
  if (!c.top) label(g, L0 - 6, y1 + 3, '0', TICK_FS, { anchor: 'end' })
  const t = g.append('text').attr('transform', `translate(52,${(y0 + y1) / 2}) rotate(-90)`)
    .attr('text-anchor', 'middle').attr('font-family', SERIF).attr('font-size', 34)
  t.append('tspan').text('Δ ln L')
  if (!c.top) {
    PERIOD_LABELS.forEach((p) => label(g, x(p), y1 + 28, String(p), TICK_FS, { anchor: 'middle' }))
    label(g, (L0 + L1) / 2, y1 + 61, 'Period [d]', TITLE_FS, { family: SERIF, anchor: 'middle' })
  }
  return { g }
}

function phasePanel(svg: any, c: any) {
  const { id, y0, y1 } = c
  const x = d3.scaleLinear().domain(c.xDomain).range([R0, R1])
  const y = d3.scaleLinear().domain(c.yDomain).range([y1, y0])
  const { g, inner } = box(svg, id, R0, y0, R1, y1)
  const drawGray = errorPoints(inner, c.gray, x, y, { err: c.err, ecolor: '#b3b3b3', size: 7, fill: '#a6a6a6' })
  drawGray()
  const ln = d3.line().x((d: any) => x(d[0])).y((d: any) => y(d[1])).curve(d3.curveMonotoneX)
  inner.append('path').datum(c.fit).attr('d', ln).attr('fill', 'none').attr('stroke', BLUE).attr('stroke-width', 4)
  inner.append('g').selectAll('rect').data(c.bins).join('rect')
    .attr('x', (d: any) => x(d[0]) - 6.5).attr('y', (d: any) => y(d[1]) - 6.5)
    .attr('width', 13).attr('height', 13).attr('fill', '#000')
  xTicks(g, c.xTicks.map((v: number) => x(v)), y0, y1, 8)
  yTicks(g, c.yTicks.map((v: number) => y(v)), R0, R1, 8)
  border(g, R0, y0, R1, y1)
  c.xLabels.forEach((v: number) => label(g, x(v), y1 + 23, String(v), TICK_FS, { anchor: 'middle' }))
  c.yLabels.forEach((v: number, i: number) => {
    const top = i === c.yLabels.length - 1
    label(g, R1 + 7, y(v) + (top ? 9 : 7), String(v), TICK_FS)
  })
  label(g, c.tagX, c.tagY, c.tag, 32)
  label(g, c.noteX, c.noteY, c.note, 25, { fill: BLUE, anchor: 'middle' })
  unitTitle(g, 1314, (y0 + y1) / 2, 'K', 90)
  if (c.xtitle) label(g, (R0 + R1) / 2, y1 + 58, 'Phased P [d]', TITLE_FS, { family: SERIF, anchor: 'middle' })
}

function draw(svg: any) {
  svg.append('rect').attr('width', W).attr('height', H).attr('fill', '#fff')

  timePanel(svg, {
    id: 'c1a', y0: 25, y1: 298, yDomain: RV_Y_DOMAIN, yTicks: RV_Y_TICKS, yLabels: RV_Y_LABELS,
    obs: RV_OBS, model: RV_MODEL, tag: '1A', ytitle: 'RV',
    legend: { x0: 421, y0: 38, x1: 613, y1: 87, mx: 445, text: 'GJ588 RVs' },
  })
  timePanel(svg, {
    id: 'c1b', y0: 797, y1: 1068, yDomain: FW_Y_DOMAIN, yTicks: FW_Y_TICKS, yLabels: FW_Y_LABELS,
    obs: FW_OBS, model: FW_MODEL, tag: '1B', ytitle: 'FWHM',
    legend: { x0: 322, y0: 809, x1: 613, y1: 857, mx: 347, text: 'GJ588 FWHM-LSD' },
  })

  const a1 = pgramPanel(svg, {
    id: 'c2a1', y0: 376, y1: 531, top: true, blackNoise: A_TOP_BLACK_NOISE, black: A_TOP_BLACK,
    purpleNoise: A_TOP_PURPLE_NOISE, purple: A_TOP_PURPLE,
    marks: [...A_MARKS_PURPLE.map((m) => [...m, PURPLE]), ...A_MARKS_BLUE.map((m) => [...m, BLUE])],
  })
  label(a1.g, 133, 406, 's1-0.48d', NOTE_FS, { fill: PURPLE })
  label(a1.g, 133, 451, '2A', 32)
  label(a1.g, 829, 397, 's1-1.48d', NOTE_FS, { fill: BLUE, anchor: 'end' })
  label(a1.g, 829, 424, 's2-0.46d', NOTE_FS, { fill: BLUE, anchor: 'end' })
  pgramPanel(svg, {
    id: 'c2a2', y0: 531, y1: 687, top: false, purpleOnTop: true, blackNoise: A_BOT_BLACK_NOISE, black: A_BOT_BLACK,
    purpleNoise: A_BOT_PURPLE_NOISE, purple: A_BOT_PURPLE,
  })

  const b1 = pgramPanel(svg, {
    id: 'c2b1', y0: 1152, y1: 1308, top: true, blackNoise: B_TOP_BLACK_NOISE, black: B_TOP_BLACK,
    purpleNoise: B_TOP_PURPLE_NOISE, purple: B_TOP_PURPLE,
    marks: [...B_MARKS_PURPLE.map((m) => [...m, PURPLE]), ...B_MARKS_BLUE.map((m) => [...m, BLUE])],
  })
  label(b1.g, 133, 1181, 's1-0.97d', NOTE_FS, { fill: PURPLE })
  label(b1.g, 133, 1207, 's2-0.39d', NOTE_FS, { fill: PURPLE })
  label(b1.g, 133, 1277, '2B', 32)
  label(b1.g, 829, 1181, 's1-0.97d', NOTE_FS, { fill: BLUE, anchor: 'end' })
  label(b1.g, 829, 1207, 's2-0.69d', NOTE_FS, { fill: BLUE, anchor: 'end' })
  label(b1.g, 829, 1233, 's3-0.40d', NOTE_FS, { fill: BLUE, anchor: 'end' })
  pgramPanel(svg, {
    id: 'c2b2', y0: 1308, y1: 1464, top: false, purpleOnTop: true, blackNoise: B_BOT_BLACK_NOISE, black: B_BOT_BLACK,
    purpleNoise: B_BOT_PURPLE_NOISE, purple: B_BOT_PURPLE,
  })

  phasePanel(svg, {
    id: 'c3a', y0: 25, y1: 225, xDomain: [0, 1.507], yDomain: [-5.3, 6], err: 0.75,
    gray: P3A_GRAY, bins: P3A_BINS, fit: P3A_FIT,
    xTicks: [0.1, 0.2, 0.3, 0.4, 0.5, 0.6, 0.7, 0.8, 0.9, 1.0, 1.1, 1.2, 1.3, 1.4], xLabels: [0.1, 0.3, 0.5, 0.7, 0.9, 1.1, 1.3, 1.5],
    yTicks: K_RV_TICKS, yLabels: K_RV_LABELS, tag: '3A', tagX: 878, tagY: 63, note: 's1-1.48d', noteX: 1065, noteY: 53,
  })
  phasePanel(svg, {
    id: 'c4a', y0: 261, y1: 461, xDomain: [0, 0.4632], yDomain: [-5.2, 6], err: 0.75,
    gray: P4A_GRAY, bins: P4A_BINS, fit: P4A_FIT,
    xTicks: [0.05, 0.1, 0.15, 0.2, 0.25, 0.3, 0.35, 0.4, 0.45], xLabels: [0.05, 0.15, 0.25, 0.35, 0.45],
    yTicks: K_RV_TICKS, yLabels: K_RV_LABELS, tag: '4A', tagX: 886, tagY: 298, note: 's2-0.46d', noteX: 1066, noteY: 287,
    xtitle: true,
  })
  phasePanel(svg, {
    id: 'c3b', y0: 797, y1: 995, xDomain: [0, 1.005], yDomain: [-60, 80], err: 9,
    gray: P3B_GRAY, bins: P3B_BINS, fit: P3B_FIT,
    xTicks: [0.1, 0.2, 0.3, 0.4, 0.5, 0.6, 0.7, 0.8, 0.9], xLabels: [0.1, 0.3, 0.5, 0.7, 0.9],
    yTicks: K_FW_TICKS, yLabels: K_FW_LABELS, tag: '3B', tagX: 920, tagY: 833, note: 's1-0.97d', noteX: 1078, noteY: 825,
  })
  phasePanel(svg, {
    id: 'c4b', y0: 1032, y1: 1230, xDomain: [0, 0.7025], yDomain: [-60, 80], err: 9,
    gray: P4B_GRAY, bins: P4B_BINS, fit: P4B_FIT,
    xTicks: [0.1, 0.2, 0.3, 0.4, 0.5, 0.6], xLabels: [0.1, 0.3, 0.5, 0.7],
    yTicks: K_FW_TICKS, yLabels: K_FW_LABELS, tag: '4B', tagX: 887, tagY: 1067, note: 's2-0.69d', noteX: 1072, noteY: 1059,
  })
  phasePanel(svg, {
    id: 'c5b', y0: 1266, y1: 1464, xDomain: [0, 0.402], yDomain: [-60, 80], err: 9,
    gray: P5B_GRAY, bins: P5B_BINS, fit: P5B_FIT,
    xTicks: [0.1, 0.2, 0.3], xLabels: [0.1, 0.2, 0.3, 0.4],
    yTicks: K_FW_TICKS, yLabels: K_FW_LABELS, tag: '5B', tagX: 885, tagY: 1303, note: 's3-0.40d', noteX: 1068, noteY: 1295,
    xtitle: true,
  })
}

export default function App() {
  const ref = useRef<SVGSVGElement>(null)
  useEffect(() => {
    const svg = d3.select(ref.current)
    svg.selectAll('*').remove()
    draw(svg)
  }, [])
  return (
    <svg ref={ref} width={W} height={H} style={{ position: 'absolute', left: 0, top: 0, background: '#fff' }} />
  )
}
